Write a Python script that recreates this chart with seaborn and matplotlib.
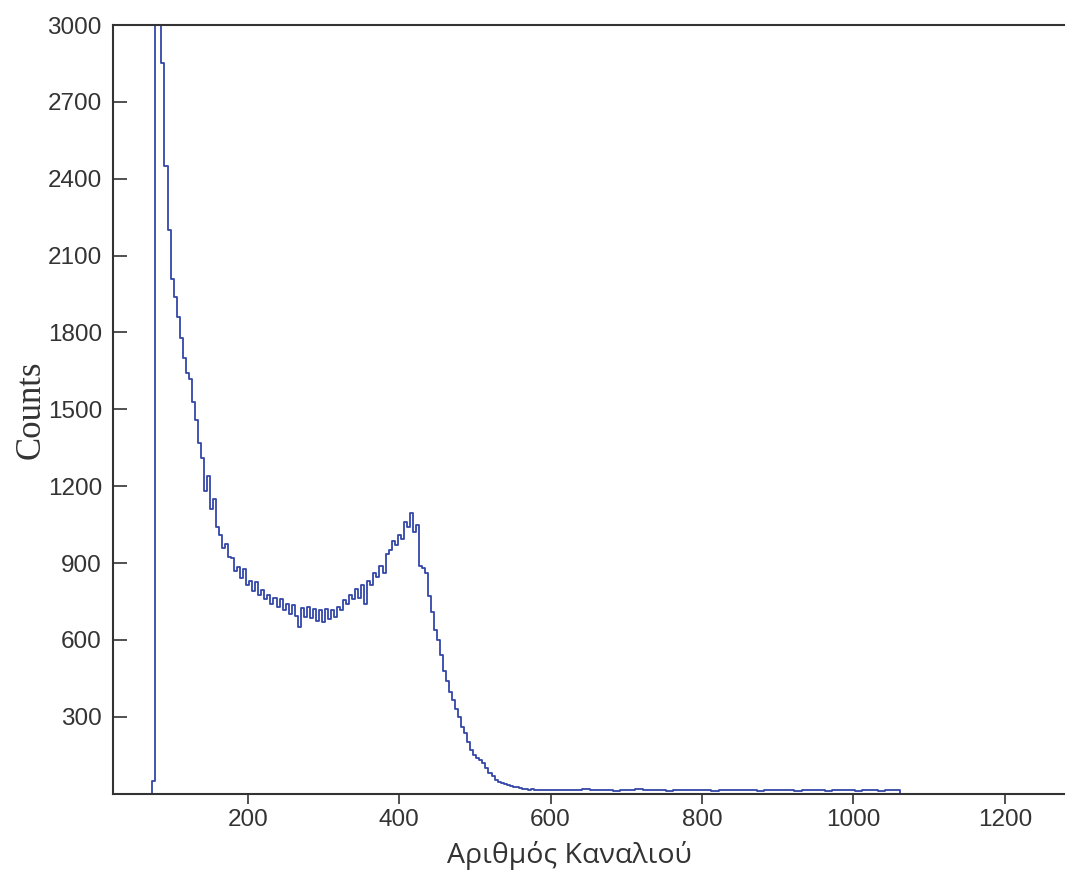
import numpy as np
import pandas as pd
import seaborn as sns
import matplotlib
matplotlib.use("Agg")
import matplotlib.pyplot as plt

# spectrum, 4-channel bins from channel 70 up to 602
low_start = 70
low_counts = [
    0,
    50, 3600, 3600, 2850, 2450, 2200, 2010, 1940, 1860, 1780,
    1700, 1640, 1620, 1530, 1460, 1370, 1310, 1180, 1240, 1110,
    1150, 1040, 1010, 960, 975, 925, 920, 870, 885, 840,
    875, 815, 830, 790, 825, 775, 795, 760, 775, 740,
    765, 730, 760, 715, 740, 700, 735, 695, 650, 725,
    690, 730, 685, 720, 675, 715, 670, 720, 680, 715,
    690, 730, 715, 755, 740, 775, 760, 800, 765, 815,
    740, 830, 815, 860, 845, 890, 860, 935, 950, 985,
    970, 1010, 995, 1060, 1040, 1095, 1020, 1050, 890, 880,
    860, 770, 710, 640, 600, 540, 480, 440, 395, 365,
    330, 300, 260, 235, 200, 170, 150, 138, 130, 120,
    100, 80, 70, 55, 46, 42, 38, 34, 30, 28,
    25, 22, 20, 18, 16, 17, 15, 16, 14, 15,
    14, 13,
]

# tail, 10-channel bins from 602
tail_start = 602
tail_counts = [
    14, 16, 13, 15, 17, 13, 14, 16, 12, 15,
    14, 17, 13, 15, 14, 12, 16, 14, 13, 15,
    16, 12, 14, 15, 13, 16, 14, 12, 15, 13,
    14, 16, 12, 15, 13, 14, 12, 15, 13, 14,
    12, 14, 13, 12, 14, 13,
]
end_channel = 1280

x_ticks = [200, 400, 600, 800, 1000, 1200]
y_ticks = [300, 600, 900, 1200, 1500, 1800, 2100, 2400, 2700, 3000]

low_edges = low_start + 4 * np.arange(len(low_counts) + 1)
tail_edges = tail_start + 10 * np.arange(len(tail_counts) + 1)
edges = np.concatenate([low_edges, tail_edges[1:], [end_channel]])
counts = low_counts + tail_counts + [0]
centers = (edges[:-1] + edges[1:]) / 2

df = pd.DataFrame({"channel": centers, "counts": counts})

sns.set_style("white")
fig = plt.figure(figsize=(10.66, 8.72), dpi=100)
ax = fig.add_axes([0.106, 0.0898, 0.892, 0.8815])

sns.histplot(data=df, x="channel", weights="counts", bins=[float(e) for e in edges],
             element="step", fill=False, color="#3446a8", linewidth=1.3, ax=ax)

ax.set_xlim(22, 1278)
ax.set_ylim(0, 3000)
ax.set_xticks(x_ticks)
ax.set_yticks(y_ticks)
ax.tick_params(axis="y", direction="in", length=10, width=1.2, labelsize=17.5,
               labelcolor="#333333", color="#333333", left=True, pad=8)
ax.tick_params(axis="x", direction="out", length=7, width=1.2, labelsize=17.5,
               labelcolor="#333333", color="#333333", bottom=True, pad=4)
for lab in ax.get_xticklabels() + ax.get_yticklabels():
    lab.set_family(["Liberation Sans", "DejaVu Sans"])

for side in ["left", "bottom", "top"]:
    ax.spines[side].set_color("#333333")
    ax.spines[side].set_linewidth(1.5)
ax.spines["right"].set_visible(False)

ax.set_ylabel("Counts", family=["Liberation Serif", "DejaVu Serif"],
              fontsize=25, color="#333333")
ax.yaxis.set_label_coords(-0.069, 0.5)
ax.set_xlabel("Αριθμός Καναλιού", family=["Open Sans", "DejaVu Sans"],
              fontsize=20.5, color="#333333")
ax.xaxis.set_label_coords(0.48, -0.062)

fig.savefig("out.png", dpi=100)
